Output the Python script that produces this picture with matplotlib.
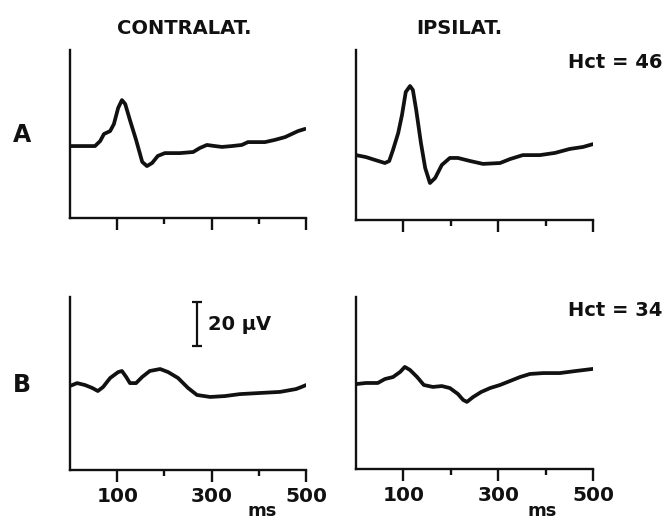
import matplotlib
matplotlib.use("Agg")
import matplotlib.pyplot as plt

# evoked potentials, amplitude in uV above the axis floor, time in ms
a_contra_t = [0, 53, 64, 72, 85, 93, 102, 110, 117, 127, 140, 153, 163, 174, 186, 201,
              233, 261, 275, 290, 307, 322, 343, 364, 377, 413, 434, 456, 470, 483, 498]
a_contra_v = [32.7, 32.7, 35.0, 38.2, 39.5, 42.7, 50.0, 53.6, 51.8, 44.5, 35.5, 25.5, 23.6, 25.0, 28.2, 29.5,
              29.5, 30.0, 31.8, 33.2, 32.7, 32.3, 32.7, 33.2, 34.5, 34.5, 35.5, 36.8, 38.2, 39.5, 40.5]

a_ipsi_t = [0, 21, 40, 61, 70, 78, 89, 97, 105, 114, 120, 127, 137, 146, 156, 167,
            181, 198, 215, 241, 268, 304, 325, 352, 388, 420, 451, 479, 500]
a_ipsi_v = [29.5, 28.6, 27.3, 25.9, 26.8, 31.8, 39.5, 47.7, 58.2, 60.9, 59.1, 50.0, 35.0, 23.6, 16.8, 19.1,
            25.0, 28.2, 28.2, 26.8, 25.5, 25.9, 27.7, 29.5, 29.5, 30.5, 32.3, 33.2, 34.5]

b_contra_t = [0, 15, 32, 47, 59, 70, 85, 102, 110, 119, 127, 140, 153, 169, 191, 208,
              229, 250, 269, 297, 328, 360, 402, 445, 479, 490, 500]
b_contra_v = [38.2, 39.5, 38.6, 37.3, 35.9, 37.7, 41.8, 44.5, 45.0, 42.3, 39.5, 39.5, 42.3, 45.0, 45.9, 44.5,
              41.8, 37.3, 34.1, 33.2, 33.6, 34.5, 35.0, 35.5, 36.8, 37.7, 38.6]

b_ipsi_t = [0, 21, 46, 61, 78, 93, 103, 114, 129, 143, 162, 181, 198, 215, 226, 234,
            247, 264, 283, 304, 325, 346, 367, 395, 430, 462, 500]
b_ipsi_v = [38.6, 39.1, 39.1, 40.9, 41.8, 44.1, 46.4, 45.0, 41.8, 38.2, 37.3, 37.7, 36.8, 34.1, 31.4, 30.5,
            32.7, 35.0, 36.8, 38.2, 40.0, 41.8, 43.2, 43.6, 43.6, 44.5, 45.5]

col_titles = ["CONTRALAT.", "IPSILAT."]
row_labels = ["A", "B"]
hct_labels = ["Hct = 46", "Hct = 34"]
major_ticks = [100, 300, 500]
minor_ticks = [200, 400]
scale_uv = 20

plt.rcParams["font.family"] = ["DejaVu Sans"]
plt.rcParams["font.weight"] = "bold"
ink = "#111111"

fig = plt.figure(figsize=(6.66, 5.19), dpi=100)
W, H = 666, 519

def add_ax(x0, y0, x1, y1):
    return fig.add_axes([x0 / W, 1 - y1 / H, (x1 - x0) / W, (y1 - y0) / H])

axes = [[add_ax(70, 50, 306, 218), add_ax(356, 50, 593, 220)],
        [add_ax(70, 297, 306, 470), add_ax(356, 297, 593, 469)]]
traces = [[(a_contra_t, a_contra_v), (a_ipsi_t, a_ipsi_v)],
          [(b_contra_t, b_contra_v), (b_ipsi_t, b_ipsi_v)]]

for r in range(2):
    for c in range(2):
        ax = axes[r][c]
        t, v = traces[r][c]
        ax.plot(t, v, color=ink, lw=2.7, solid_joinstyle="round", solid_capstyle="round")
        ax.set_xlim(0, 500)
        h = ax.get_position().height * H
        ax.set_ylim(0, h / 2.2)
        for s in ["top", "right"]:
            ax.spines[s].set_visible(False)
        for s in ["left", "bottom"]:
            ax.spines[s].set_linewidth(1.7)
            ax.spines[s].set_color(ink)
        ax.set_yticks([])
        ax.set_xticks(major_ticks)
        ax.set_xticks(minor_ticks, minor=True)
        ax.tick_params(axis="x", which="major", direction="out", length=8.5, width=1.7,
                       color=ink, labelsize=14.5, pad=4, labelcolor=ink)
        ax.tick_params(axis="x", which="minor", direction="out", length=4.5, width=1.7, color=ink)
        if r == 0:
            ax.set_xticklabels([])
        ax.patch.set_visible(False)

# scale bar on lower-left panel
axb = axes[1][0]
y_top = axb.get_ylim()[1] - (302 - 297) / 2.2
axb.errorbar([269], [y_top - scale_uv / 2], yerr=[scale_uv / 2], color=ink,
             capsize=3.5, elinewidth=1.6, capthick=1.6, fmt="none")
axb.text(292, y_top - scale_uv / 2, "20 \u00b5V", fontsize=14, color=ink, va="center", ha="left")

# labels
fig.text(184 / W, 1 - 28 / H, col_titles[0], fontsize=14, ha="center", va="center", color=ink)
fig.text(459 / W, 1 - 28 / H, col_titles[1], fontsize=14, ha="center", va="center", color=ink)
fig.text(22 / W, 1 - 135 / H, row_labels[0], fontsize=17, ha="center", va="center", color=ink)
fig.text(22 / W, 1 - 385 / H, row_labels[1], fontsize=17, ha="center", va="center", color=ink)
fig.text(662 / W, 1 - 62 / H, hct_labels[0], fontsize=14, ha="right", va="center", color=ink)
fig.text(662 / W, 1 - 310 / H, hct_labels[1], fontsize=14, ha="right", va="center", color=ink)
fig.text(262 / W, 1 - 511 / H, "ms", fontsize=13, ha="center", va="center", color=ink)
fig.text(542 / W, 1 - 511 / H, "ms", fontsize=13, ha="center", va="center", color=ink)

fig.savefig("out.png", dpi=100, facecolor="white")
